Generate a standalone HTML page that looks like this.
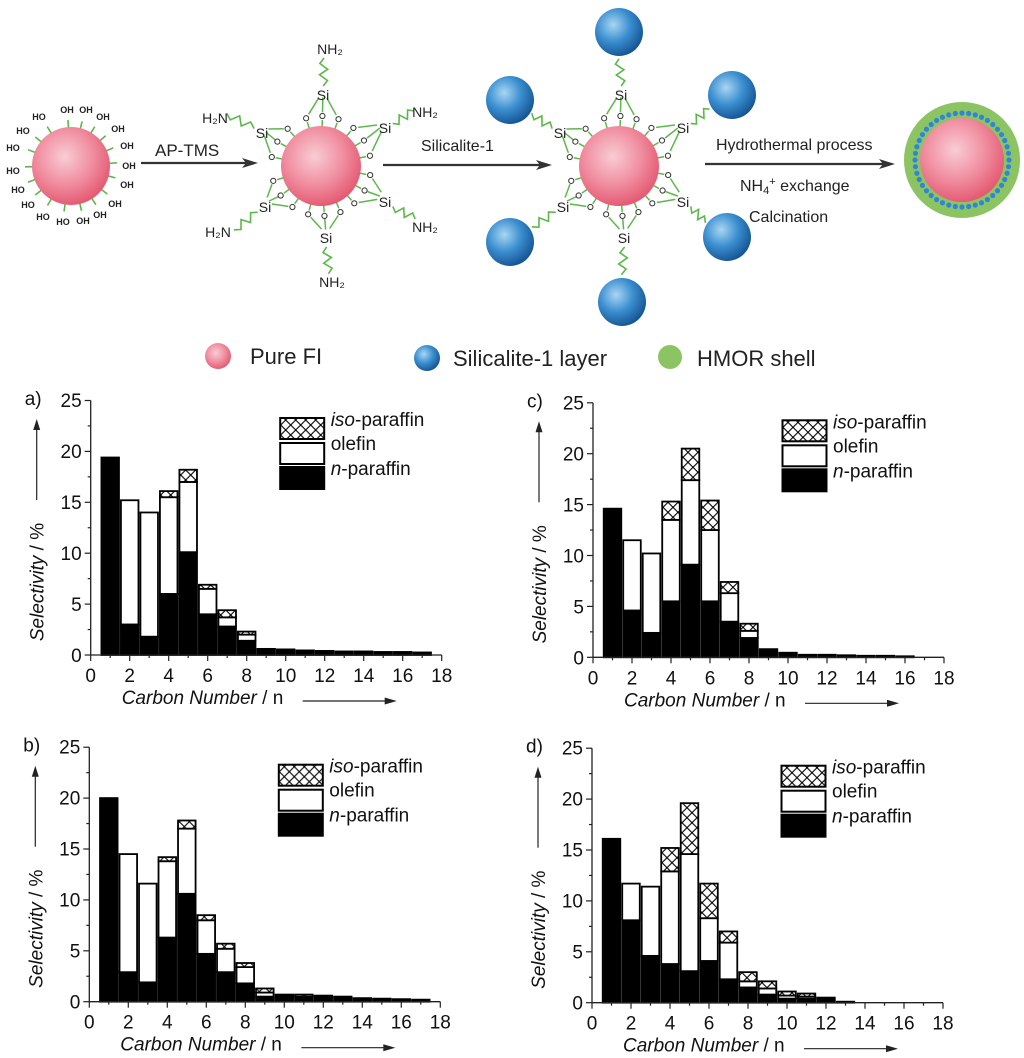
<!DOCTYPE html>
<html><head><meta charset="utf-8"><style>
html,body{margin:0;padding:0;background:#fff;}
svg{display:block;font-family:"Liberation Sans",sans-serif;}
</style></head><body>
<svg id="s" width="1024" height="1058" viewBox="0 0 1024 1058" xmlns="http://www.w3.org/2000/svg">
<defs>
<radialGradient id="pk" cx="0.42" cy="0.38" r="0.65"><stop offset="0" stop-color="#f8cdd4"/><stop offset="0.55" stop-color="#f08ea0"/><stop offset="1" stop-color="#e4566f"/></radialGradient>
<radialGradient id="bl" cx="0.38" cy="0.35" r="0.7"><stop offset="0" stop-color="#a9d6f2"/><stop offset="0.5" stop-color="#3b8fd0"/><stop offset="1" stop-color="#13508f"/></radialGradient>
<pattern id="hx" width="10" height="10" patternUnits="userSpaceOnUse"><rect width="10" height="10" fill="#fff"/><path d="M0,0L10,10M10,0L0,10" stroke="#000" stroke-width="1.1"/></pattern>
</defs>
<g id="scheme"></g>
<g font-size="9" font-weight="bold" fill="#222" text-anchor="middle">
<text x="67" y="113">OH</text><text x="86" y="113">OH</text><text x="39" y="120">HO</text><text x="103" y="120">OH</text>
<text x="23" y="134">HO</text><text x="118" y="132">OH</text><text x="13" y="151">HO</text><text x="127" y="149">OH</text>
<text x="13" y="174">HO</text><text x="129" y="169">OH</text><text x="18" y="193">HO</text><text x="127" y="188">OH</text>
<text x="28" y="208">HO</text><text x="115" y="207">OH</text><text x="43" y="220">HO</text><text x="63" y="225">HO</text>
<text x="83" y="224">OH</text><text x="100" y="218">OH</text>
</g>
<g font-size="14" fill="#222" text-anchor="middle">
<text x="330" y="54">NH₂</text><text x="425" y="117">NH₂</text><text x="425" y="232">NH₂</text>
<text x="332" y="287">NH₂</text><text x="218" y="237">H₂N</text><text x="215" y="123">H₂N</text>
<text x="323" y="100">Si</text><text x="385" y="133">Si</text><text x="385" y="207">Si</text><text x="326" y="243">Si</text><text x="265" y="212">Si</text><text x="262" y="138">Si</text>
<text x="621" y="100">Si</text><text x="683" y="133">Si</text><text x="683" y="207">Si</text><text x="624" y="243">Si</text><text x="563" y="212">Si</text><text x="560" y="138">Si</text>
</g>
<g font-size="16" fill="#222">
<text x="155" y="156" font-size="17">AP-TMS</text>
<text x="421" y="151">Silicalite-1</text>
<text x="716" y="150">Hydrothermal process</text>
<text x="740" y="191">NH<tspan font-size="11" dy="3">4</tspan><tspan font-size="11" dy="-9">+</tspan><tspan dy="6"> exchange</tspan></text>
<text x="749" y="222">Calcination</text>
</g>
<g font-size="22" fill="#222">
<text x="250" y="364">Pure FI</text>
<text x="453" y="366">Silicalite-1 layer</text>
<text x="697" y="366">HMOR shell</text>
</g>

<g id="ca" transform="translate(90.7,655)"></g>
<g id="cb" transform="translate(89.3,1001.7)"></g>
<g id="cc" transform="translate(593,657.3)"></g>
<g id="cd" transform="translate(592,1002.7)"></g>

<g id="labels" font-size="19" fill="#111">
<g transform="translate(90.7,655)">
<text x="-66" y="-250">a)</text>
<g text-anchor="end"><text x="-9" y="7">0</text><text x="-9" y="-44">5</text><text x="-9" y="-95">10</text><text x="-9" y="-146">15</text><text x="-9" y="-197">20</text><text x="-9" y="-248">25</text></g>
<g text-anchor="middle"><text x="0" y="27">0</text><text x="39" y="27">2</text><text x="78" y="27">4</text><text x="117" y="27">6</text><text x="156" y="27">8</text><text x="195" y="27">10</text><text x="234" y="27">12</text><text x="273" y="27">14</text><text x="312" y="27">16</text><text x="351" y="27">18</text></g>
<text transform="translate(-47,-73) rotate(-90)" text-anchor="middle"><tspan font-style="italic">Selectivity</tspan> / %</text>
<text x="31" y="49"><tspan font-style="italic">Carbon Number</tspan> / n</text>
<text x="240" y="-205">olefin</text><text x="240" y="-180"><tspan font-style="italic">n</tspan>-paraffin</text><text x="240" y="-229"><tspan font-style="italic">iso</tspan>-paraffin</text>
</g>
<g transform="translate(89.3,1001.7)">
<text x="-66" y="-250">b)</text>
<g text-anchor="end"><text x="-9" y="7">0</text><text x="-9" y="-44">5</text><text x="-9" y="-95">10</text><text x="-9" y="-146">15</text><text x="-9" y="-197">20</text><text x="-9" y="-248">25</text></g>
<g text-anchor="middle"><text x="0" y="27">0</text><text x="39" y="27">2</text><text x="78" y="27">4</text><text x="117" y="27">6</text><text x="156" y="27">8</text><text x="195" y="27">10</text><text x="234" y="27">12</text><text x="273" y="27">14</text><text x="312" y="27">16</text><text x="351" y="27">18</text></g>
<text transform="translate(-47,-73) rotate(-90)" text-anchor="middle"><tspan font-style="italic">Selectivity</tspan> / %</text>
<text x="31" y="49"><tspan font-style="italic">Carbon Number</tspan> / n</text>
<text x="240" y="-205">olefin</text><text x="240" y="-180"><tspan font-style="italic">n</tspan>-paraffin</text><text x="240" y="-229"><tspan font-style="italic">iso</tspan>-paraffin</text>
</g>
<g transform="translate(593,657.3)">
<text x="-66" y="-250">c)</text>
<g text-anchor="end"><text x="-9" y="7">0</text><text x="-9" y="-44">5</text><text x="-9" y="-95">10</text><text x="-9" y="-146">15</text><text x="-9" y="-197">20</text><text x="-9" y="-248">25</text></g>
<g text-anchor="middle"><text x="0" y="27">0</text><text x="39" y="27">2</text><text x="78" y="27">4</text><text x="117" y="27">6</text><text x="156" y="27">8</text><text x="195" y="27">10</text><text x="234" y="27">12</text><text x="273" y="27">14</text><text x="312" y="27">16</text><text x="351" y="27">18</text></g>
<text transform="translate(-47,-73) rotate(-90)" text-anchor="middle"><tspan font-style="italic">Selectivity</tspan> / %</text>
<text x="31" y="49"><tspan font-style="italic">Carbon Number</tspan> / n</text>
<text x="240" y="-205">olefin</text><text x="240" y="-180"><tspan font-style="italic">n</tspan>-paraffin</text><text x="240" y="-229"><tspan font-style="italic">iso</tspan>-paraffin</text>
</g>
<g transform="translate(592,1002.7)">
<text x="-66" y="-250">d)</text>
<g text-anchor="end"><text x="-9" y="7">0</text><text x="-9" y="-44">5</text><text x="-9" y="-95">10</text><text x="-9" y="-146">15</text><text x="-9" y="-197">20</text><text x="-9" y="-248">25</text></g>
<g text-anchor="middle"><text x="0" y="27">0</text><text x="39" y="27">2</text><text x="78" y="27">4</text><text x="117" y="27">6</text><text x="156" y="27">8</text><text x="195" y="27">10</text><text x="234" y="27">12</text><text x="273" y="27">14</text><text x="312" y="27">16</text><text x="351" y="27">18</text></g>
<text transform="translate(-47,-73) rotate(-90)" text-anchor="middle"><tspan font-style="italic">Selectivity</tspan> / %</text>
<text x="31" y="49"><tspan font-style="italic">Carbon Number</tspan> / n</text>
<text x="240" y="-205">olefin</text><text x="240" y="-180"><tspan font-style="italic">n</tspan>-paraffin</text><text x="240" y="-229"><tspan font-style="italic">iso</tspan>-paraffin</text>
</g>
</g>
</svg>
<script>
var NS="http://www.w3.org/2000/svg";
function el(p,t,a){var e=document.createElementNS(NS,t);for(var k in a)e.setAttribute(k,a[k]);p.appendChild(e);return e;}
var S=document.getElementById('scheme');
var G="#5cb84a";
function arrow(x1,x2,y){el(S,'line',{x1:x1,y1:y,x2:x2-10,y2:y,stroke:'#333','stroke-width':2.2});el(S,'path',{d:'M'+x2+','+y+' L'+(x2-16)+','+(y-5)+' L'+(x2-12)+','+y+' L'+(x2-16)+','+(y+5)+'Z',fill:'#333'});}
arrow(141,258,163);arrow(383,552,165);arrow(705,895,164);
var a1=[[67,110],[86,110],[39,117],[103,117],[23,131],[118,129],[13,148],[127,146],[13,171],[129,166],[18,190],[127,185],[28,205],[115,204],[43,217],[63,222],[83,221],[100,215]];
a1.forEach(function(p){var dx=p[0]-71,dy=p[1]-4-166,d=Math.sqrt(dx*dx+dy*dy);el(S,'line',{x1:71+dx/d*38,y1:166+dy/d*38,x2:71+dx/d*46,y2:166+dy/d*46,stroke:G,'stroke-width':1.6});});
el(S,'circle',{cx:71,cy:166,r:39,fill:'url(#pk)'});
var sis=[[2,-71],[64,-38],[64,36],[5,72],[-56,41],[-59,-33]];
function func(cx,cy,blue){
 var blues=[[0,-134],[113,-71],[108,71],[3,136],[-109,76],[-109,-66]];
 sis.forEach(function(s,i){
  var sx=cx+s[0],sy=cy+s[1]-4;var ang=Math.atan2(s[1],s[0]);
  [-0.33,0,0.33].forEach(function(da){var a=ang+da;var ox=cx+Math.cos(a)*50,oy=cy+Math.sin(a)*50;
   el(S,'line',{x1:cx+Math.cos(a)*39,y1:cy+Math.sin(a)*39,x2:cx+Math.cos(a)*46,y2:cy+Math.sin(a)*46,stroke:G,'stroke-width':1.5});
   el(S,'line',{x1:ox+(sx-ox)*0.15,y1:oy+(sy-oy)*0.15,x2:sx+(ox-sx)*0.25,y2:sy+(oy-sy)*0.25,stroke:G,'stroke-width':1.5});
   el(S,'circle',{cx:ox,cy:oy,r:2.6,fill:'none',stroke:'#333','stroke-width':1});});
  var ex,ey;
  if(blue){var b=blues[i];ex=cx+b[0]-b[0]*0.2;ey=cy+b[1]-b[1]*0.2;}else{ex=cx+Math.cos(ang)*108;ey=cy+Math.sin(ang)*108;}
  var n=5,d='M'+(sx+Math.cos(ang)*9)+','+(sy+4+Math.sin(ang)*9);var px=-Math.sin(ang),py=Math.cos(ang);
  for(var k=1;k<=n;k++){var t=k/n;var x=sx+Math.cos(ang)*9+(ex-sx-Math.cos(ang)*9)*t,y=sy+4+Math.sin(ang)*9+(ey-sy-4-Math.sin(ang)*9)*t;var o=(k%2?4:-4);if(k==n)o=0;d+=' L'+(x+px*o)+','+(y+py*o);}
  el(S,'path',{d:d,fill:'none',stroke:G,'stroke-width':1.6});
 });
 el(S,'circle',{cx:cx,cy:cy,r:40,fill:'url(#pk)'});
 if(blue)blues.forEach(function(b){el(S,'circle',{cx:cx+b[0],cy:cy+b[1],r:24,fill:'url(#bl)'});});
}
func(321,166,false);func(619,166,true);
el(S,'circle',{cx:962,cy:160,r:58,fill:'#8cc463'});
for(var i=0;i<44;i++){var a=i/44*Math.PI*2;el(S,'circle',{cx:962+Math.cos(a)*47,cy:160+Math.sin(a)*47,r:2.6,fill:'#2f86d6'});}
el(S,'circle',{cx:962,cy:160,r:42,fill:'url(#pk)'});
el(S,'circle',{cx:218,cy:356,r:13,fill:'url(#pk)'});
el(S,'circle',{cx:427,cy:358,r:13,fill:'url(#bl)'});
el(S,'circle',{cx:670,cy:357,r:12,fill:'#8cc463'});

var XS=19.5,YS=10.18,W=0.9*XS;
var data={
ca:[[19.4,19.4,19.4],[3,15.2,15.2],[1.8,14,14],[6,15.5,16.1],[10.1,17,18.2],[4,6.5,6.9],[2.8,3.7,4.4],[1.4,2,2.3],[.6,.6,.6],[.55,.55,.55],[.45,.45,.45],[.4,.4,.4],[.35,.35,.35],[.35,.35,.35],[.3,.3,.3],[.3,.3,.3],[.25,.25,.25]],
cb:[[20,20,20],[2.9,14.5,14.5],[1.9,11.6,11.6],[6.3,13.8,14.2],[10.6,17,17.8],[4.7,8,8.5],[2.9,5.2,5.7],[1.8,3.4,3.8],[.5,.9,1.3],[.7,.7,.7],[.5,.5,.7],[.6,.6,.6],[.5,.5,.5],[.35,.35,.35],[.3,.3,.3],[.25,.25,.25],[.2,.2,.2]],
cc:[[14.6,14.6,14.6],[4.6,11.5,11.5],[2.4,10.2,10.2],[5.5,13.5,15.3],[9.1,17.4,20.5],[5.5,12.5,15.4],[3.5,6.3,7.4],[1.9,2.6,3.3],[.8,.8,.8],[.45,.45,.45],[.25,.25,.25],[.25,.25,.25],[.2,.2,.2],[.15,.15,.15],[.15,.15,.15],[.1,.1,.1]],
cd:[[16.1,16.1,16.1],[8.1,11.7,11.7],[4.6,11.4,11.4],[3.8,12.9,15.2],[3.1,14.6,19.6],[4.1,8.3,11.7],[2.3,5.9,7],[1.5,2.1,3],[.8,1.4,2.1],[.4,.7,1.1],[.4,.6,.9],[.5,.5,.5],[.1,.1,.1]]
};
for(var id in data){
 var g=document.getElementById(id);
 data[id].forEach(function(b,i){var x=(i+1)*XS-W/2;
  function seg(lo,hi,f){if(hi-lo<0.02)return;el(g,'rect',{x:x,y:-hi*YS,width:W,height:(hi-lo)*YS,fill:f,stroke:'#000','stroke-width':1.8});}
  seg(0,b[0],'#000');seg(b[0],b[1],'#fff');seg(b[1],b[2],'url(#hx)');
 });
 el(g,'path',{d:'M0,-254.5 L0,0 L351,0',fill:'none',stroke:'#222','stroke-width':1.3});
 for(var k=0;k<=10;k++){var y=-k*2.5*YS;el(g,'line',{x1:0,y1:y,x2:k%2?-3:-6,y2:y,stroke:'#222','stroke-width':1.2});}
 for(var k=0;k<=18;k++){var x=k*XS;el(g,'line',{x1:x,y1:0,x2:x,y2:k%2?3:6,stroke:'#222','stroke-width':1.2});}
 el(g,'rect',{x:189.5,y:-237,width:44,height:21,fill:'url(#hx)',stroke:'#000','stroke-width':2});
 el(g,'rect',{x:189.5,y:-212,width:44,height:21,fill:'#fff',stroke:'#000','stroke-width':2});
 el(g,'rect',{x:189.5,y:-188,width:44,height:22,fill:'#000',stroke:'#000','stroke-width':2});
 el(g,'line',{x1:-54,y1:-155,x2:-54,y2:-228,stroke:'#222','stroke-width':1.2});
 el(g,'path',{d:'M-54,-236 L-57.5,-225 L-50.5,-225Z',fill:'#222'});
 el(g,'line',{x1:212,y1:46,x2:298,y2:46,stroke:'#222','stroke-width':1.2});
 el(g,'path',{d:'M306,46 L294,42.5 L294,49.5Z',fill:'#222'});
}
</script>
</body></html>
